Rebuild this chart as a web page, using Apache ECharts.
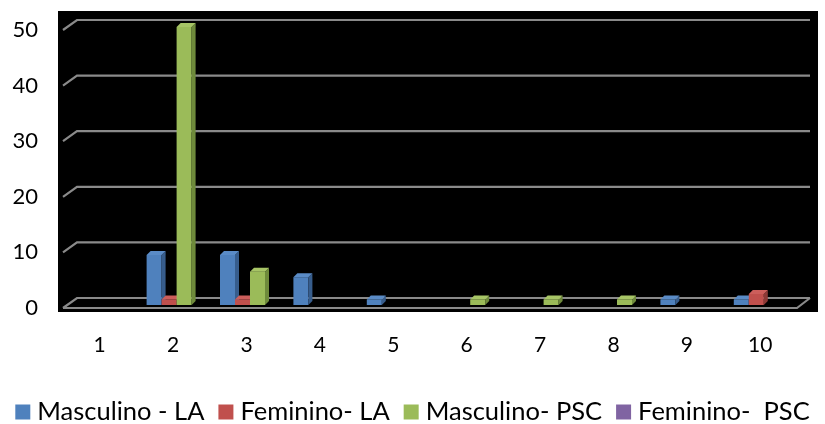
<!DOCTYPE html>
<html>
<head>
<meta charset="utf-8">
<script src="https://cdn.jsdelivr.net/npm/echarts@6/dist/echarts.min.js"></script>
<style>
  html, body { margin: 0; padding: 0; background: #fff; }
  #chart { width: 825px; height: 424px; }
</style>
</head>
<body>
<div id="chart"></div>
<script>
const categories = ['1', '2', '3', '4', '5', '6', '7', '8', '9', '10'];
const seriesNames = ['Masculino - LA', 'Feminino- LA', 'Masculino- PSC', 'Feminino-  PSC'];
const masculinoLA = [0, 9, 9, 5, 1, 0, 0, 0, 1, 1];
const femininoLA = [0, 1, 1, 0, 0, 0, 0, 0, 0, 2];
const masculinoPSC = [0, 50, 6, 0, 0, 1, 1, 1, 0, 0];
const femininoPSC = [0, 0, 0, 0, 0, 0, 0, 0, 0, 0];
const yTicks = [0, 10, 20, 30, 40, 50];

const seriesValues = [masculinoLA, femininoLA, masculinoPSC, femininoPSC];
// front, side, top
const palette = [
  ['#4F81BD', '#375D8C', '#5A8BC6'],
  ['#C0504D', '#8C3936', '#CC5E5B'],
  ['#9BBB59', '#6E8A3B', '#A7C566'],
  ['#8064A2', '#5C4778', '#8C70AE']
];

// 3D look: back wall offset and bar depth
const WALL_DX = 14, WALL_DY = 10;
const BAR_W = 15, BAR_DX = 4, BAR_DY = 4;

const chart = echarts.init(document.getElementById('chart'));

function frameItem(params, api) {
  const cs = params.coordSys;
  const v = api.value(1);
  const y = api.coord([0, v])[1];
  const x0 = cs.x, x1 = cs.x + cs.width;
  const children = [{
    type: 'polyline',
    shape: { points: [[x0, y], [x0 + WALL_DX, y - WALL_DY], [x1 + WALL_DX - 1, y - WALL_DY]] },
    style: { stroke: '#8a8a8a', lineWidth: 2.2, fill: null }
  }];
  if (v === 0) {
    children.push({
      type: 'polyline',
      shape: { points: [[x0, y], [x1, y], [x1 + WALL_DX - 1, y - WALL_DY]] },
      style: { stroke: '#8a8a8a', lineWidth: 2.2, fill: null }
    });
  }
  return { type: 'group', children };
}

function makeBarItem(s) {
  return function (params, api) {
    const v = api.value(1);
    if (!v) return null;
    const i = api.value(0);
    const top = api.coord([i, v]);
    const base = api.coord([i, 0]);
    const x = top[0] - 26.5 + s * BAR_W;
    const yt = top[1] - 3;
    const yb = base[1] - 3;
    const c = palette[s];
    return {
      type: 'group',
      children: [
        { type: 'rect', shape: { x: x, y: yt, width: BAR_W, height: yb - yt }, style: { fill: c[0] } },
        { type: 'polygon', shape: { points: [[x + BAR_W, yt], [x + BAR_W + BAR_DX, yt - BAR_DY], [x + BAR_W + BAR_DX, yb - BAR_DY], [x + BAR_W, yb]] }, style: { fill: c[1] } },
        { type: 'polygon', shape: { points: [[x, yt], [x + BAR_DX, yt - BAR_DY], [x + BAR_W + BAR_DX, yt - BAR_DY], [x + BAR_W, yt]] }, style: { fill: c[2] } }
      ]
    };
  };
}

const series = [{
  type: 'custom',
  name: 'frame',
  renderItem: frameItem,
  data: yTicks.map(t => [0, t]),
  silent: true,
  z: 1
}];

seriesValues.forEach((vals, s) => {
  series.push({
    type: 'custom',
    name: seriesNames[s],
    color: palette[s][0],
    renderItem: makeBarItem(s),
    data: vals.map((v, i) => [i, v]),
    z: 3 + s
  });
});

const option = {
  animation: false,
  backgroundColor: '#fff',
  textStyle: { fontFamily: 'Lato, "Open Sans", sans-serif' },
  graphic: [{
    type: 'rect',
    z: -10,
    shape: { x: 58, y: 11, width: 760, height: 301 },
    style: { fill: '#000' }
  }],
  grid: { left: 63, right: 28, top: 30, bottom: 116 },
  xAxis: {
    type: 'category',
    data: categories,
    axisLine: { show: false },
    axisTick: { show: false },
    axisLabel: { color: '#000', fontSize: 21, margin: 27 }
  },
  yAxis: {
    type: 'value',
    min: 0,
    max: 50,
    interval: 10,
    axisLine: { show: false },
    axisTick: { show: false },
    splitLine: { show: false },
    axisLabel: { color: '#000', fontSize: 22, margin: 25 }
  },
  legend: {
    top: 394,
    left: 'center',
    data: seriesNames.map((n, s) => ({ name: n, icon: 'rect', itemStyle: { color: palette[s][0] } })),
    itemWidth: 15,
    itemHeight: 15,
    itemGap: 14,
    textStyle: { color: '#000', fontSize: 25.5, padding: [0, 0, 0, 2] }
  },
  series
};

chart.setOption(option);
</script>
</body>
</html>
